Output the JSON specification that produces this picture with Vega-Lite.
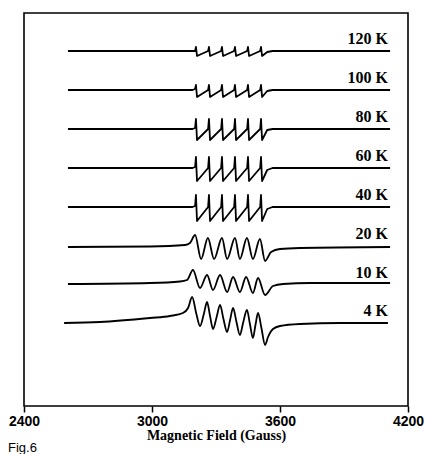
{
  "$schema": "https://vega.github.io/schema/vega-lite/v6.json",
  "autosize": "none",
  "padding": {"left": 24, "top": 13, "right": 19, "bottom": 48},
  "width": 384,
  "height": 393,
  "background": "white",
  "config": {"view": {"stroke": "black", "strokeWidth": 1.6}},
  "title": {"text": "Fig.6", "orient": "bottom", "anchor": "start", "frame": "group", "dx": -16, "offset": 0, "font": "Liberation Sans", "fontSize": 13, "fontWeight": "normal", "color": "black"},
  "layer": [
    {
      "data": {"values": [
        {"T":"120K","B":2606,"S":355},{"T":"120K","B":3190,"S":355},{"T":"120K","B":3202,"S":355},{"T":"120K","B":3206,"S":359},{"T":"120K","B":3211,"S":350},{"T":"120K","B":3263,"S":355},{"T":"120K","B":3267,"S":359},{"T":"120K","B":3272,"S":350},{"T":"120K","B":3324,"S":355},{"T":"120K","B":3328,"S":359},{"T":"120K","B":3333,"S":350},{"T":"120K","B":3385,"S":355},{"T":"120K","B":3389,"S":359},{"T":"120K","B":3394,"S":350},{"T":"120K","B":3446,"S":355},{"T":"120K","B":3450,"S":359},{"T":"120K","B":3455,"S":350},{"T":"120K","B":3507,"S":355},{"T":"120K","B":3511,"S":359},{"T":"120K","B":3516,"S":350},{"T":"120K","B":3540,"S":354},{"T":"120K","B":3565,"S":355},{"T":"120K","B":4116,"S":355},

        {"T":"100K","B":2606,"S":316},{"T":"100K","B":3190,"S":316},{"T":"100K","B":3202,"S":317},{"T":"100K","B":3206,"S":321},{"T":"100K","B":3211,"S":309},{"T":"100K","B":3263,"S":316},{"T":"100K","B":3267,"S":321},{"T":"100K","B":3272,"S":309},{"T":"100K","B":3324,"S":316},{"T":"100K","B":3328,"S":321},{"T":"100K","B":3333,"S":309},{"T":"100K","B":3385,"S":316},{"T":"100K","B":3389,"S":321},{"T":"100K","B":3394,"S":309},{"T":"100K","B":3446,"S":316},{"T":"100K","B":3450,"S":321},{"T":"100K","B":3455,"S":309},{"T":"100K","B":3507,"S":316},{"T":"100K","B":3511,"S":321},{"T":"100K","B":3516,"S":309},{"T":"100K","B":3540,"S":315},{"T":"100K","B":3565,"S":316},{"T":"100K","B":4116,"S":316},

        {"T":"80K","B":2606,"S":277},{"T":"80K","B":3190,"S":277},{"T":"80K","B":3202,"S":278},{"T":"80K","B":3206,"S":287},{"T":"80K","B":3211,"S":266},{"T":"80K","B":3263,"S":277},{"T":"80K","B":3267,"S":287},{"T":"80K","B":3272,"S":266},{"T":"80K","B":3324,"S":277},{"T":"80K","B":3328,"S":287},{"T":"80K","B":3333,"S":266},{"T":"80K","B":3385,"S":277},{"T":"80K","B":3389,"S":287},{"T":"80K","B":3394,"S":266},{"T":"80K","B":3446,"S":277},{"T":"80K","B":3450,"S":287},{"T":"80K","B":3455,"S":266},{"T":"80K","B":3507,"S":277},{"T":"80K","B":3511,"S":287},{"T":"80K","B":3516,"S":266},{"T":"80K","B":3540,"S":276},{"T":"80K","B":3565,"S":277},{"T":"80K","B":4116,"S":277},

        {"T":"60K","B":2606,"S":238},{"T":"60K","B":3190,"S":238},{"T":"60K","B":3202,"S":239},{"T":"60K","B":3206,"S":249},{"T":"60K","B":3211,"S":225},{"T":"60K","B":3263,"S":238},{"T":"60K","B":3267,"S":249},{"T":"60K","B":3272,"S":225},{"T":"60K","B":3324,"S":238},{"T":"60K","B":3328,"S":249},{"T":"60K","B":3333,"S":225},{"T":"60K","B":3385,"S":238},{"T":"60K","B":3389,"S":249},{"T":"60K","B":3394,"S":225},{"T":"60K","B":3446,"S":238},{"T":"60K","B":3450,"S":249},{"T":"60K","B":3455,"S":225},{"T":"60K","B":3507,"S":238},{"T":"60K","B":3511,"S":249},{"T":"60K","B":3516,"S":225},{"T":"60K","B":3540,"S":236},{"T":"60K","B":3565,"S":238},{"T":"60K","B":4116,"S":238},

        {"T":"40K","B":2606,"S":199},{"T":"40K","B":3190,"S":199},{"T":"40K","B":3202,"S":200},{"T":"40K","B":3206,"S":211},{"T":"40K","B":3211,"S":185},{"T":"40K","B":3263,"S":199},{"T":"40K","B":3267,"S":211},{"T":"40K","B":3272,"S":185},{"T":"40K","B":3324,"S":199},{"T":"40K","B":3328,"S":211},{"T":"40K","B":3333,"S":185},{"T":"40K","B":3385,"S":199},{"T":"40K","B":3389,"S":211},{"T":"40K","B":3394,"S":185},{"T":"40K","B":3446,"S":199},{"T":"40K","B":3450,"S":211},{"T":"40K","B":3455,"S":185},{"T":"40K","B":3507,"S":199},{"T":"40K","B":3511,"S":211},{"T":"40K","B":3516,"S":185},{"T":"40K","B":3540,"S":197},{"T":"40K","B":3565,"S":199},{"T":"40K","B":4116,"S":199}
      ]},
      "mark": {"type": "line", "color": "black", "strokeWidth": 1.8, "strokeJoin": "round", "interpolate": "linear"},
      "encoding": {
        "x": {"field": "B", "type": "quantitative",
              "scale": {"domain": [2400, 4200], "nice": false, "zero": false},
              "axis": {"values": [2400, 3000, 3600, 4200], "format": "d", "grid": false, "domain": false,
                       "tickSize": 6, "tickWidth": 1.5, "tickColor": "black",
                       "labelFont": "Liberation Sans", "labelFontSize": 14, "labelFontWeight": "bold", "labelColor": "black",
                       "labelPadding": 2, "labelFlush": false,
                       "title": "Magnetic Field (Gauss)", "titleFont": "Liberation Serif", "titleFontSize": 14,
                       "titleFontWeight": "bold", "titleColor": "black", "titlePadding": 0}},
        "y": {"field": "S", "type": "quantitative", "scale": {"domain": [0, 393], "nice": false}, "axis": null},
        "detail": {"field": "T"}
      }
    },
    {
      "data": {"values": [
        {"T":"20K","B":2606,"S":159},{"T":"20K","B":2991,"S":159.5},{"T":"20K","B":3155,"S":161},{"T":"20K","B":3178,"S":163},{"T":"20K","B":3202,"S":171},{"T":"20K","B":3230,"S":147},{"T":"20K","B":3262,"S":168},{"T":"20K","B":3291,"S":147},{"T":"20K","B":3328,"S":168},{"T":"20K","B":3352,"S":147},{"T":"20K","B":3389,"S":168},{"T":"20K","B":3412,"S":147},{"T":"20K","B":3445,"S":168},{"T":"20K","B":3473,"S":147},{"T":"20K","B":3506,"S":167},{"T":"20K","B":3530,"S":145},{"T":"20K","B":3558,"S":154},{"T":"20K","B":3600,"S":157},{"T":"20K","B":3694,"S":158},{"T":"20K","B":4116,"S":159},

        {"T":"10K","B":2606,"S":122},{"T":"10K","B":2991,"S":123},{"T":"10K","B":3131,"S":124.5},{"T":"10K","B":3164,"S":126},{"T":"10K","B":3192,"S":136},{"T":"10K","B":3225,"S":118},{"T":"10K","B":3258,"S":131},{"T":"10K","B":3286,"S":116},{"T":"10K","B":3319,"S":131},{"T":"10K","B":3352,"S":114},{"T":"10K","B":3380,"S":129},{"T":"10K","B":3412,"S":114},{"T":"10K","B":3441,"S":129},{"T":"10K","B":3473,"S":113},{"T":"10K","B":3497,"S":128},{"T":"10K","B":3530,"S":111},{"T":"10K","B":3567,"S":120},{"T":"10K","B":3614,"S":122},{"T":"10K","B":3741,"S":123},{"T":"10K","B":4116,"S":123},

        {"T":"4K","B":2588,"S":83},{"T":"4K","B":2756,"S":84},{"T":"4K","B":2991,"S":88},{"T":"4K","B":3084,"S":90},{"T":"4K","B":3145,"S":93},{"T":"4K","B":3169,"S":98},{"T":"4K","B":3188,"S":109},{"T":"4K","B":3208,"S":92},{"T":"4K","B":3225,"S":80},{"T":"4K","B":3243,"S":92},{"T":"4K","B":3258,"S":104},{"T":"4K","B":3272,"S":90},{"T":"4K","B":3286,"S":77},{"T":"4K","B":3303,"S":89},{"T":"4K","B":3319,"S":101},{"T":"4K","B":3335,"S":87},{"T":"4K","B":3352,"S":74},{"T":"4K","B":3366,"S":86},{"T":"4K","B":3380,"S":98},{"T":"4K","B":3396,"S":84},{"T":"4K","B":3412,"S":71},{"T":"4K","B":3428,"S":84},{"T":"4K","B":3445,"S":96},{"T":"4K","B":3459,"S":82},{"T":"4K","B":3473,"S":68},{"T":"4K","B":3485,"S":81},{"T":"4K","B":3497,"S":93},{"T":"4K","B":3513,"S":78},{"T":"4K","B":3530,"S":61},{"T":"4K","B":3544,"S":69},{"T":"4K","B":3567,"S":77},{"T":"4K","B":3600,"S":80},{"T":"4K","B":3694,"S":82},{"T":"4K","B":3881,"S":83},{"T":"4K","B":4106,"S":83}
      ]},
      "mark": {"type": "line", "color": "black", "strokeWidth": 1.8, "strokeJoin": "round", "interpolate": "monotone"},
      "encoding": {
        "x": {"field": "B", "type": "quantitative"},
        "y": {"field": "S", "type": "quantitative"},
        "detail": {"field": "T"}
      }
    },
    {
      "data": {"values": [
        {"label": "120 K", "B": 4106, "S": 367},
        {"label": "100 K", "B": 4106, "S": 328},
        {"label": "80 K", "B": 4106, "S": 289},
        {"label": "60 K", "B": 4106, "S": 250},
        {"label": "40 K", "B": 4106, "S": 211},
        {"label": "20 K", "B": 4106, "S": 172},
        {"label": "10 K", "B": 4106, "S": 133},
        {"label": "4 K", "B": 4106, "S": 95}
      ]},
      "mark": {"type": "text", "align": "right", "baseline": "middle", "font": "Liberation Serif", "fontSize": 16, "fontWeight": "bold", "color": "black"},
      "encoding": {
        "x": {"field": "B", "type": "quantitative"},
        "y": {"field": "S", "type": "quantitative"},
        "text": {"field": "label"}
      }
    }
  ]
}
